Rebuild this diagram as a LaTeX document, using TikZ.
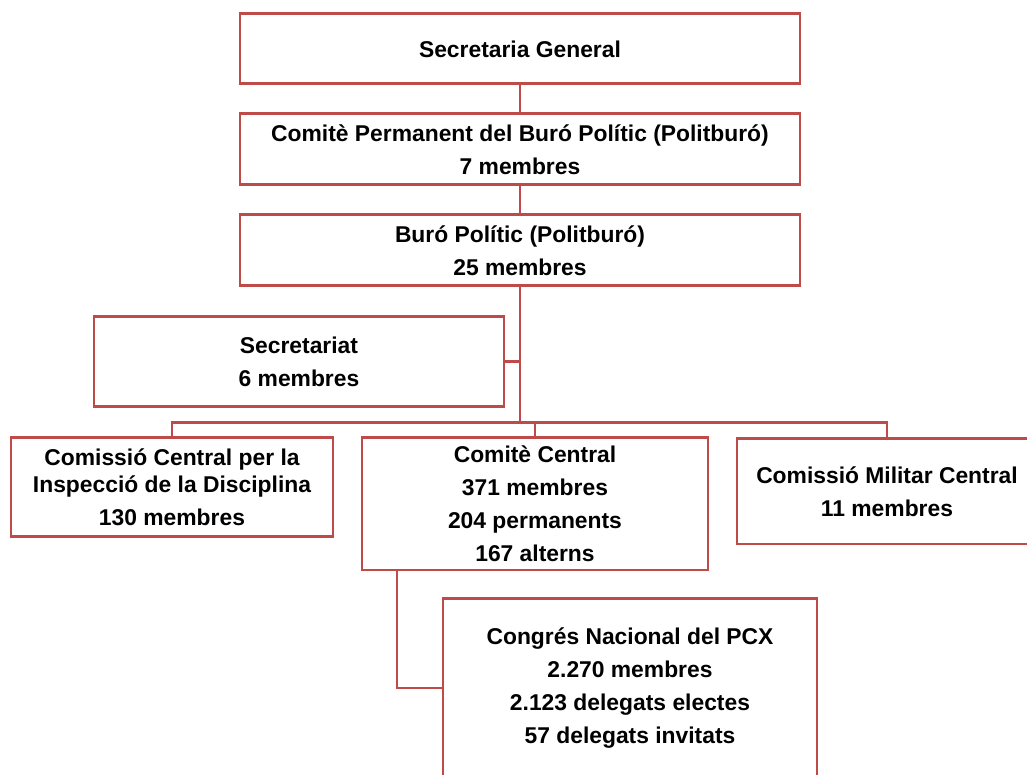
\documentclass[tikz,border=0pt]{standalone}
\usepackage{fontspec}
\setmainfont{Liberation Sans}
\usepackage{xcolor}
\usepackage{tikz}
\usetikzlibrary{positioning}
\definecolor{orgred}{HTML}{BE4B48}

\begin{document}
\begin{tikzpicture}[
    box/.style={draw=orgred, line width=1.7pt, fill=white, inner sep=0pt, align=center, font=\fontsize{13}{15.3}\selectfont\bfseries},
    link/.style={draw=orgred, line width=1.7pt}
]
    \useasboundingbox (0,0) rectangle (20.54,15.5);
    \clip (0,0) rectangle (20.54,15.5);
    \fill[white] (0,0) rectangle (20.54,15.5);
    \node[box, minimum width=11.2cm, minimum height=1.4cm] (secgen) at (10.4,14.52) {Secretaria General};
    \node[box, minimum width=11.2cm, minimum height=1.42cm] (permanent) at (10.4,12.51) {Comitè Permanent del Buró Polític (Politburó)\\[3.4pt]7 membres};
    \node[box, minimum width=11.2cm, minimum height=1.42cm] (buro) at (10.4,10.49) {Buró Polític (Politburó)\\[3.4pt]25 membres};
    \node[box, minimum width=8.2cm, minimum height=1.8cm] (secretariat) at (5.98,8.26) {Secretariat\\[3.4pt]6 membres};
    \node[box, minimum width=6.44cm, minimum height=1.98cm] (disciplina) at (3.44,5.75) {Comissió Central per la\\Inspecció de la Disciplina\\[3.4pt]130 membres};
    \node[box, minimum width=6.92cm, minimum height=2.64cm] (central) at (10.7,5.42) {Comitè Central\\[3.4pt]371 membres\\[3.4pt]204 permanents\\[3.4pt]167 alterns};
    \node[box, minimum width=6.0cm, minimum height=2.1cm] (militar) at (17.74,5.67) {Comissió Militar Central\\[3.4pt]11 membres};
    \node[box, minimum width=7.48cm, minimum height=3.56cm] (congres) at (12.6,1.74) {Congrés Nacional del PCX\\[3.4pt]2.270 membres\\[3.4pt]2.123 delegats electes\\[3.4pt]57 delegats invitats};
    \coordinate (bus) at (10.4,7.04);
    \coordinate (stem) at (7.94,0);
    \draw[link] (secgen) -- (permanent);
    \draw[link] (permanent) -- (buro);
    \draw[link] (buro) -- (bus);
    \draw[link] (secretariat.east) -- (secretariat.east -| buro.south);
    \draw[link] (disciplina.north) |- (bus) -| (militar.north);
    \draw[link] (bus -| central.north) -- (central.north);
    \draw[link] (stem |- central.south) |- (congres.west);
\end{tikzpicture}
\end{document}
